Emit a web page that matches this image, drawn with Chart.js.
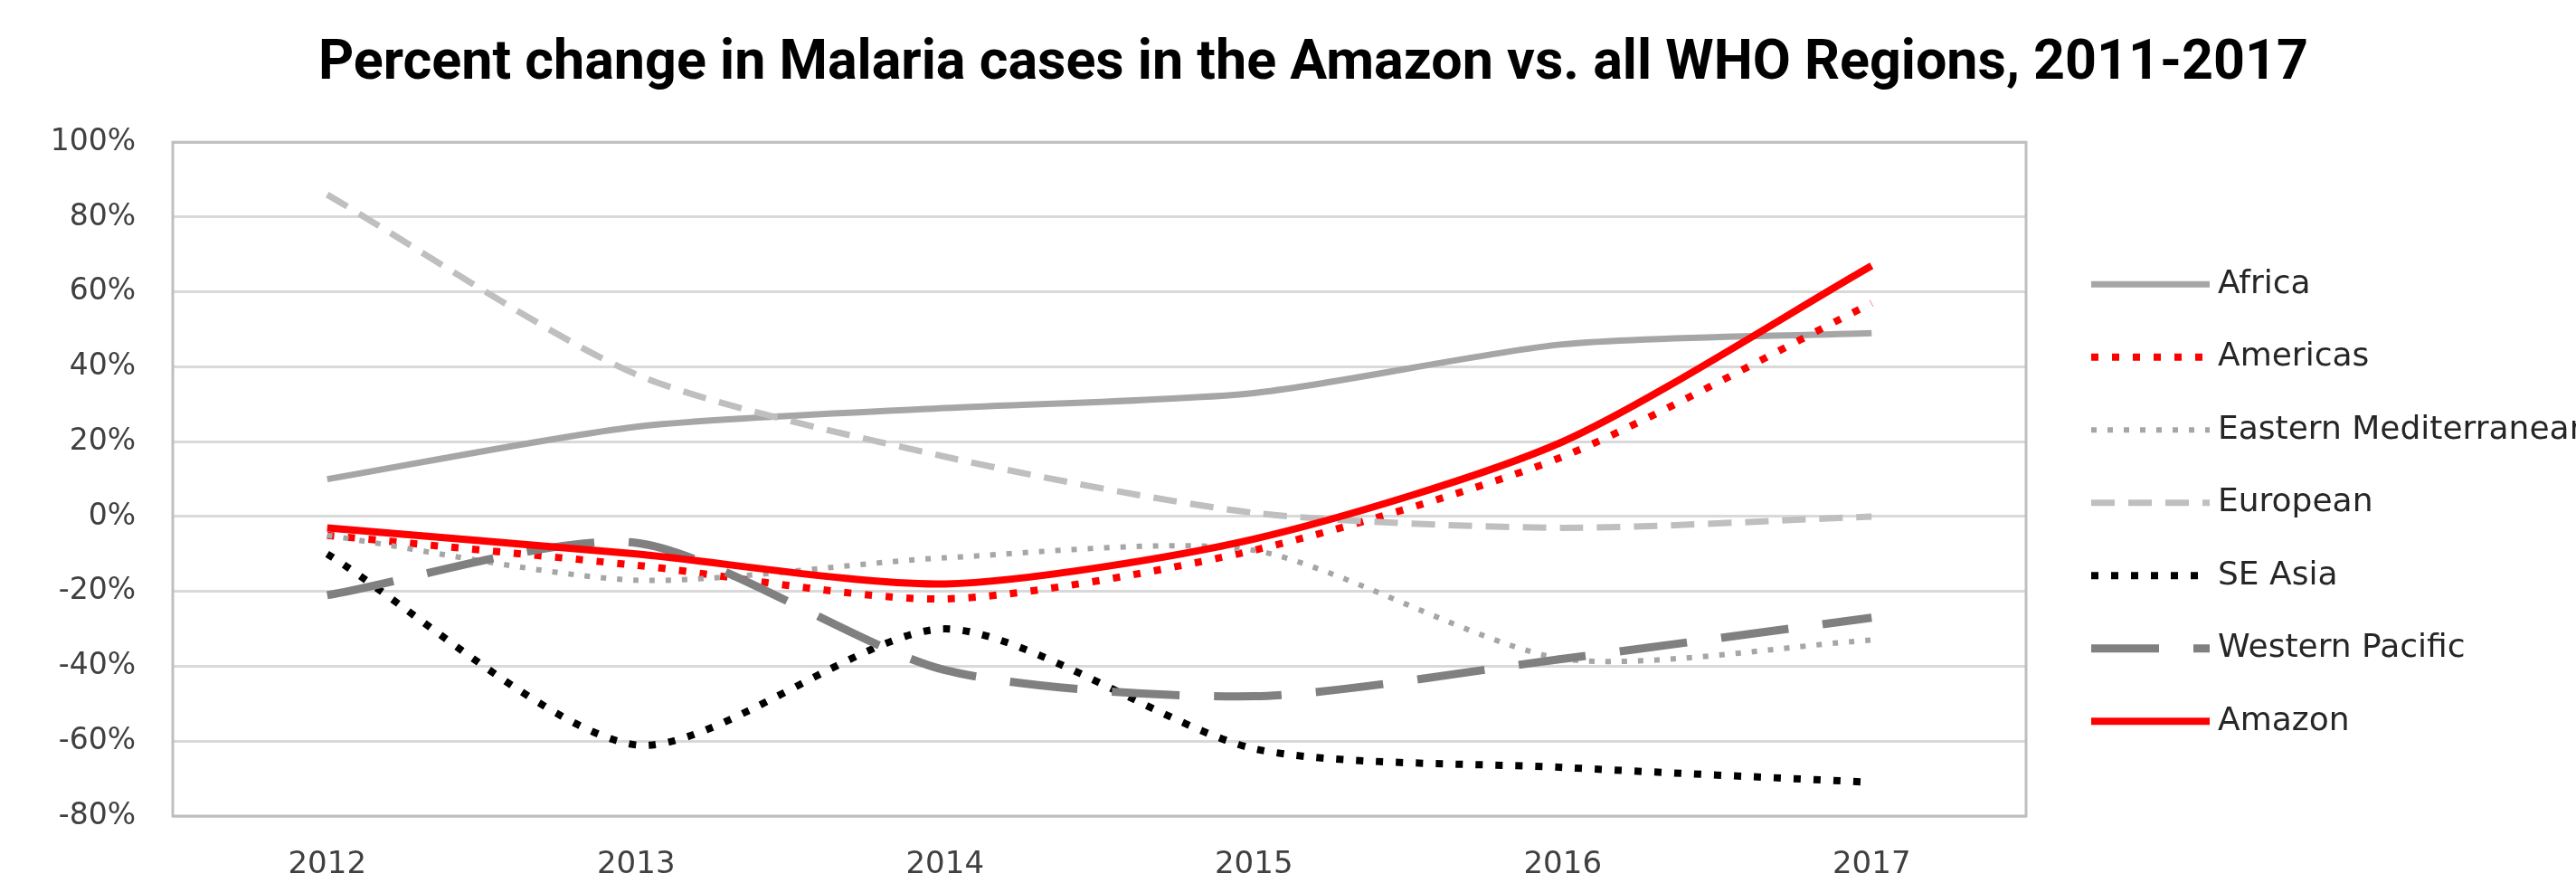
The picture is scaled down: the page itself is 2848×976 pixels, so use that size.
<!DOCTYPE html>
<html lang="en">
<head>
    <meta charset="UTF-8">
    <title>Percent change in Malaria cases</title>
    <style>
        html, body { margin: 0; padding: 0; background: #fff; }
        #wrap { width: 2848px; height: 976px; }
    </style>
</head>
<body>
<div id="wrap"><canvas id="myChart" width="2848" height="976"></canvas></div>

<script src="https://cdn.jsdelivr.net/npm/chart.js@4.4.1/dist/chart.umd.min.js"></script>
<script>
// values, in percent
const years = ['2012', '2013', '2014', '2015', '2016', '2017'];
const africa = [10, 24, 29, 33, 46, 49];
const americas = [-5, -13, -22, -9, 16, 57];
const easternMed = [-5, -17, -11, -9, -38, -33];
const european = [86, 38, 16, 1, -3, 0];
const seAsia = [-10, -61, -30, -62, -67, -71];
const westernPacific = [-21, -7, -41, -48, -38, -27];
const amazon = [-3, -10, -18, -6, 20, 67];
const yTicks = [-80, -60, -40, -20, 0, 20, 40, 60, 80, 100];

const series = [
    { label: 'Africa', data: africa, color: '#a6a6a6', width: 7, dash: [] },
    { label: 'Americas', data: americas, color: '#ff0000', width: 8, dash: [8, 15] },
    { label: 'Eastern Mediterranean', data: easternMed, color: '#a6a6a6', width: 6, dash: [6, 12] },
    { label: 'European', data: european, color: '#bfbfbf', width: 7, dash: [26, 15] },
    { label: 'SE Asia', data: seAsia, color: '#000000', width: 8, dash: [8, 14] },
    { label: 'Western Pacific', data: westernPacific, color: '#808080', width: 9, dash: [75, 38] },
    { label: 'Amazon', data: amazon, color: '#ff0000', width: 8, dash: [] }
];

// box round the plot area, like the excel one
const plotBorder = {
    id: 'plotBorder',
    beforeDatasetsDraw(chart) {
        const { ctx, chartArea: a } = chart;
        ctx.save();
        ctx.strokeStyle = '#bfbfbf';
        ctx.lineWidth = 3;
        ctx.strokeRect(a.left, a.top, a.right - a.left, a.bottom - a.top);
        ctx.restore();
    }
};

// legend on the right: its own layout box so the title keeps the full width
const sideLegend = {
    id: 'sideLegend',
    start(chart) {
        const box = {
            position: 'right', weight: 1000, fullSize: false, options: {},
            left: 0, top: 0, right: 0, bottom: 0, width: 0, height: 0,
            isHorizontal() { return false; },
            update(maxWidth, maxHeight) { this.width = 608; this.height = maxHeight; },
            draw() {
                const ctx = chart.ctx;
                ctx.save();
                ctx.font = "36px 'DejaVu Sans', sans-serif";
                ctx.textBaseline = 'middle';
                ctx.fillStyle = '#262626';
                chart.data.datasets.forEach((ds, i) => {
                    const y = this.top + 157 + i * 80.5;
                    const x = this.left + 72;
                    ctx.save();
                    ctx.strokeStyle = ds.borderColor;
                    ctx.lineWidth = ds.borderWidth;
                    ctx.setLineDash(ds.borderDash);
                    ctx.lineCap = 'butt';
                    ctx.beginPath();
                    ctx.moveTo(x, y);
                    ctx.lineTo(x + 131, y);
                    ctx.stroke();
                    ctx.restore();
                    ctx.fillText(ds.label, x + 140, y);
                });
                ctx.restore();
            }
        };
        Chart.layouts.addBox(chart, box);
    }
};

const ctx = document.getElementById('myChart').getContext('2d');
new Chart(ctx, {
    type: 'line',
    data: {
        labels: years,
        datasets: series.map((s, i) => ({
            label: s.label,
            data: s.data,
            borderColor: s.color,
            backgroundColor: s.color,
            borderWidth: s.width,
            borderDash: s.dash,
            borderCapStyle: 'butt',
            pointRadius: 0,
            tension: 0.25,
            fill: false,
            order: series.length - i   // last series (Amazon) on top
        }))
    },
    options: {
        responsive: false,
        animation: false,
        devicePixelRatio: 1,
        layout: { padding: { left: 56, right: 0, top: 0, bottom: 0 } },
        plugins: {
            title: {
                display: true,
                text: 'Percent change in Malaria cases in the Amazon vs. all WHO Regions, 2011-2017',
                color: '#000000',
                font: { family: "'Liberation Sans Narrow', 'Roboto', sans-serif", size: 61, weight: 'bold' },
                padding: { top: 35, bottom: 49 }
            },
            legend: { display: false },
            tooltip: { enabled: false }
        },
        scales: {
            x: {
                offset: true,
                grid: { display: false, drawTicks: false },
                border: { display: false },
                ticks: {
                    color: '#404040',
                    padding: 34,
                    font: { family: "'DejaVu Sans', sans-serif", size: 34 }
                },
                afterFit(scale) { scale.height = 74; }
            },
            y: {
                min: yTicks[0],
                max: yTicks[yTicks.length - 1],
                afterBuildTicks(scale) { scale.ticks = yTicks.map(v => ({ value: v })); },
                grid: { color: '#d9d9d9', lineWidth: 3, drawTicks: false },
                border: { display: false },
                ticks: {
                    color: '#404040',
                    padding: 41,
                    font: { family: "'DejaVu Sans', sans-serif", size: 33 },
                    callback: v => v + '%'
                },
                afterFit(scale) { scale.width = 135; }
            }
        }
    },
    plugins: [plotBorder, sideLegend]
});
</script>
</body>
</html>
